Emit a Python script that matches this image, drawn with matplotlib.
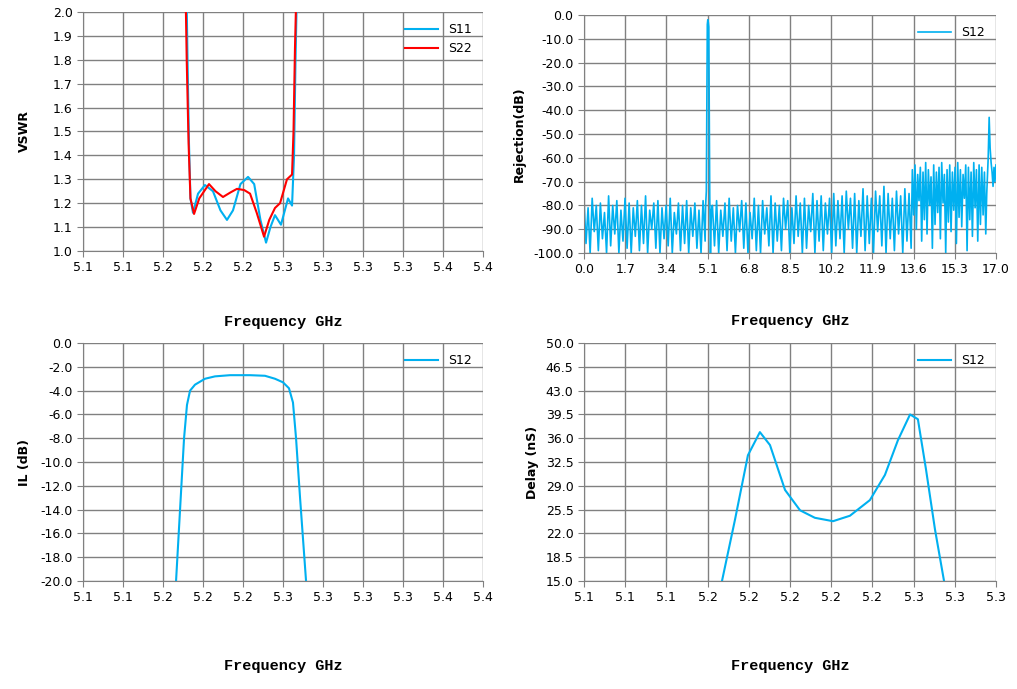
import numpy as np
import matplotlib
matplotlib.use("Agg")
import matplotlib.pyplot as plt
from matplotlib.ticker import FuncFormatter, FormatStrFormatter

# % data

# VSWR (top left)
s11_f = [5.1776, 5.1784, 5.1795, 5.1806, 5.1825, 5.1863, 5.1915, 5.1975, 5.2031, 5.2080,
         5.2125, 5.2181, 5.2238, 5.2284, 5.2331, 5.2373, 5.2406, 5.2440, 5.2485, 5.2538,
         5.2568, 5.2583, 5.2594, 5.2605]
s11_v = [2.10, 1.80, 1.45, 1.22, 1.16, 1.24, 1.276, 1.25, 1.17, 1.13,
         1.17, 1.28, 1.31, 1.28, 1.13, 1.035, 1.10, 1.15, 1.11, 1.22,
         1.19, 1.40, 1.80, 2.10]
s22_f = [5.1769, 5.1778, 5.1792, 5.1806, 5.1833, 5.1872, 5.1945, 5.1994, 5.2050, 5.2106,
         5.2155, 5.2209, 5.2253, 5.2303, 5.2358, 5.2397, 5.2440, 5.2478, 5.2530, 5.2568,
         5.2579, 5.2590, 5.2601]
s22_v = [2.10, 1.80, 1.45, 1.22, 1.155, 1.22, 1.28, 1.25, 1.226, 1.245,
         1.26, 1.255, 1.24, 1.16, 1.06, 1.13, 1.18, 1.20, 1.30, 1.32,
         1.50, 1.85, 2.10]

# Rejection wideband (top right)
rej_a_top = [-78, -81, -77, -80, -79, -83, -76, -80, -78, -82, -77, -79, -81, -78, -80, -76, -82, -79,
             -78, -81, -80, -77, -83, -79, -80, -78, -81, -79, -82, -78]
rej_a_bot = [-96, -100, -91, -99, -94, -100, -97, -92, -100, -95, -98, -100, -93, -99, -96, -100, -90, -98,
             -100, -94, -97, -100, -92, -99, -96, -100, -93, -98, -100, -95]
spike_f = [5.02, 5.05, 5.07, 5.09, 5.11, 5.13, 5.15, 5.17, 5.19, 5.22, 5.26]
spike_v = [-80, -74, -42, -4, -2, -3, -5, -40, -76, -100, -82]
rej_c_top = [-80, -78, -82, -79, -77, -81, -80, -78, -79, -83, -77, -80, -78, -81, -76, -79, -80, -77,
             -78, -81, -76, -79, -77, -80, -75, -78, -76, -79, -77, -75, -78, -76, -74, -77, -75, -78,
             -73, -76, -77, -74, -76, -72, -75, -77, -74, -76, -73, -75]
rej_c_bot = [-97, -100, -93, -99, -95, -100, -91, -98, -100, -94, -99, -100, -92, -97, -100, -95, -99, -90,
             -100, -96, -93, -100, -98, -91, -100, -95, -99, -92, -100, -97, -94, -100, -90, -98, -100, -93,
             -99, -96, -100, -91, -97, -100, -94, -99, -92, -100, -95, -98]
rej_d_top = [-65, -63, -67, -64, -66, -62, -65, -68, -63, -66, -64, -62, -67, -65, -63, -66, -64, -62,
             -65, -67, -63, -64, -66, -62, -65, -63, -64, -66]
rej_d_bot = [-84, -90, -78, -95, -86, -92, -80, -98, -88, -83, -94, -79, -100, -87, -91, -82, -96, -85,
             -89, -77, -99, -86, -93, -81, -95, -88, -84, -92]
tail_f = [16.62, 16.68, 16.72, 16.76, 16.80, 16.84, 16.88, 16.92, 16.96, 17.0]
tail_v = [-75, -60, -43, -56, -62, -66, -72, -64, -70, -63]

# Insertion loss (bottom left)
il_f = [5.1698, 5.1728, 5.1758, 5.1780, 5.1803, 5.1840, 5.1915, 5.1990, 5.2103, 5.2253,
        5.2365, 5.2440, 5.2500, 5.2545, 5.2575, 5.2598, 5.2628, 5.2673]
il_v = [-20, -14, -8, -5.2, -4.0, -3.5, -3.0, -2.8, -2.7, -2.7,
        -2.75, -3.0, -3.3, -3.8, -5.0, -8.0, -13.0, -20.0]

# Group delay (bottom right)
gd_f = [5.1670, 5.1733, 5.1796, 5.1854, 5.1903, 5.1976, 5.2049, 5.2121, 5.2209, 5.2291,
        5.2388, 5.2461, 5.2524, 5.2583, 5.2621, 5.2660, 5.2704, 5.2748]
gd_v = [15.0, 24.0, 33.5, 36.9, 35.0, 28.4, 25.4, 24.3, 23.8, 24.6,
        26.9, 30.6, 35.7, 39.5, 38.8, 31.5, 22.6, 15.0]

BLUE = "#00B0F0"
RED = "#FF0000"
GRID = "#808080"

# %%

def interleave(top, bot):
    out = []
    for t, b in zip(top, bot):
        out += [t, b]
    return out

# excel style rounding (half up) for the frequency labels
round1 = FuncFormatter(lambda v, p: "{:.1f}".format(np.floor(v * 10 + 0.5 + 1e-6) / 10))

def style(ax, xlabel, ylabel, ylabx, pad):
    ax.grid(True, color=GRID, lw=1)
    ax.set_axisbelow(True)
    for s in ["top", "right"]:
        ax.spines[s].set_visible(False)
    for s in ["left", "bottom"]:
        ax.spines[s].set_color(GRID)
    ax.tick_params(colors="black", labelsize=9, length=4, color=GRID)
    ax.set_xlabel(xlabel, family="Liberation Mono", fontweight="bold", fontsize=11, labelpad=pad)
    ax.set_ylabel(ylabel, fontweight="bold", fontsize=9)
    ax.yaxis.set_label_coords(ylabx, 0.5)
    ax.legend(loc="upper right", frameon=False, fontsize=9, handlelength=2.6)

fig = plt.figure(figsize=(10.17, 6.89), dpi=100)

ax1 = fig.add_axes([0.0816, 0.6357, 0.3933, 0.3469])
ax1.plot(s11_f, s11_v, color=BLUE, lw=1.5, label="S11")
ax1.plot(s22_f, s22_v, color=RED, lw=1.5, label="S22")
ax1.set_xlim(5.10, 5.40)
ax1.set_ylim(1.0, 2.0)
ax1.set_xticks(np.linspace(5.10, 5.40, 11))
ax1.set_yticks(np.arange(1.0, 2.001, 0.1))
ax1.xaxis.set_major_formatter(round1)
ax1.yaxis.set_major_formatter(FormatStrFormatter("%.1f"))
style(ax1, "Frequency GHz", "VSWR", -0.13, 29)

ax2 = fig.add_axes([0.5742, 0.6328, 0.4051, 0.3454])
ya = interleave(rej_a_top, rej_a_bot)
yc = interleave(rej_c_top, rej_c_bot)
yd = interleave(rej_d_top, rej_d_bot)
xr = (list(np.linspace(0.0, 5.0, len(ya))) + spike_f + list(np.linspace(5.3, 13.5, len(yc)))
      + list(np.linspace(13.55, 16.58, len(yd))) + tail_f)
yr = ya + spike_v + yc + yd + tail_v
ax2.plot(xr, yr, color=BLUE, lw=1.2, label="S12")
ax2.set_xlim(0, 17)
ax2.set_ylim(-100, 0)
ax2.set_xticks(np.arange(0, 17.01, 1.7))
ax2.set_yticks(np.arange(-100, 0.1, 10))
ax2.xaxis.set_major_formatter(FormatStrFormatter("%.1f"))
ax2.yaxis.set_major_formatter(FormatStrFormatter("%.1f"))
style(ax2, "Frequency GHz", "Rejection(dB)", -0.14, 27)

ax3 = fig.add_axes([0.0816, 0.1567, 0.3933, 0.3454])
ax3.plot(il_f, il_v, color=BLUE, lw=1.5, label="S12")
ax3.set_xlim(5.10, 5.40)
ax3.set_ylim(-20, 0)
ax3.set_xticks(np.linspace(5.10, 5.40, 11))
ax3.set_yticks(np.arange(-20, 0.1, 2))
ax3.xaxis.set_major_formatter(round1)
ax3.yaxis.set_major_formatter(FormatStrFormatter("%.1f"))
style(ax3, "Frequency GHz", "IL (dB)", -0.13, 39)

ax4 = fig.add_axes([0.5742, 0.1567, 0.4051, 0.3454])
ax4.plot(gd_f, gd_v, color=BLUE, lw=1.5, label="S12")
ax4.set_xlim(5.10, 5.30)
ax4.set_ylim(15, 50)
ax4.set_xticks(np.linspace(5.10, 5.30, 11))
ax4.set_yticks(np.arange(15, 50.01, 3.5))
ax4.xaxis.set_major_formatter(round1)
ax4.yaxis.set_major_formatter(FormatStrFormatter("%.1f"))
style(ax4, "Frequency GHz", "Delay (nS)", -0.11, 39)

fig.savefig("out.png", dpi=100)
